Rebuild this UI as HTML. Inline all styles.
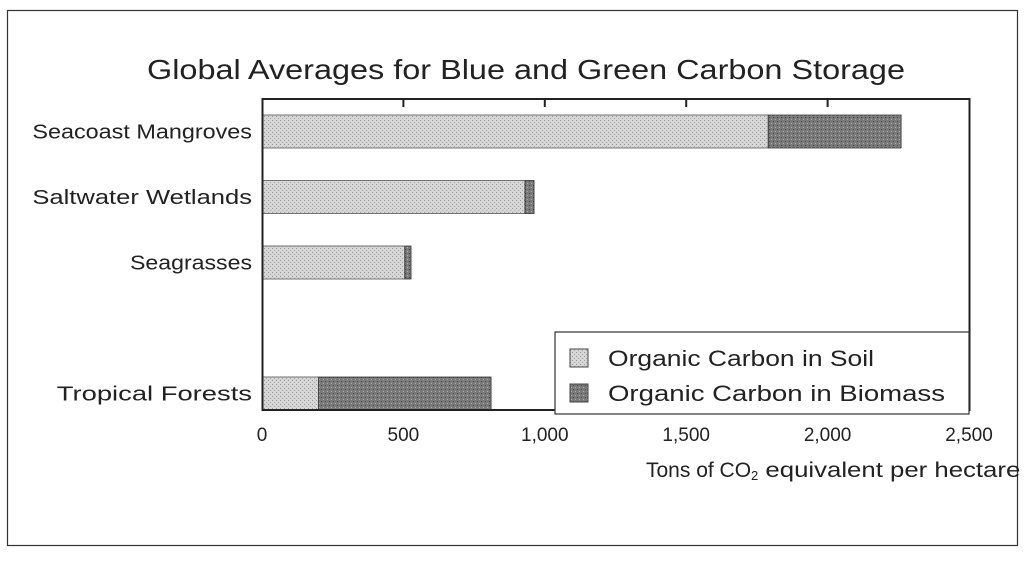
<!DOCTYPE html>
<html><head><meta charset="utf-8"><style>
body{margin:0;background:#fff;width:1024px;height:557px;overflow:hidden;font-family:"Liberation Sans",sans-serif;}
svg text{font-family:"Liberation Sans",sans-serif;fill:#222;}
</style></head><body>
<svg id="chart" width="1024" height="557" xmlns="http://www.w3.org/2000/svg">
<defs>
<pattern id="pSoil" width="4" height="4" patternUnits="userSpaceOnUse"><rect width="4" height="4" fill="#d6d6d6"/><rect x="0" y="0" width="1" height="1" fill="#999"/><rect x="2" y="2" width="1" height="1" fill="#aaa"/></pattern>
<pattern id="pBio" width="4" height="4" patternUnits="userSpaceOnUse"><rect width="4" height="4" fill="#7a7a7a"/><rect x="1" y="1" width="1" height="1" fill="#444"/><rect x="3" y="3" width="1" height="1" fill="#aaa"/></pattern>
</defs>
<rect x="7.5" y="10.5" width="1010" height="535" fill="none" stroke="#333" stroke-width="1.2"/>
<text x="147" y="79" font-size="28" textLength="758" lengthAdjust="spacingAndGlyphs">Global Averages for Blue and Green Carbon Storage</text>
<g id="bars"></g>
<rect x="262.5" y="99" width="707" height="311" fill="none" stroke="#222" stroke-width="2"/>
<g id="ticks"></g>
<g id="cats"></g>
<g>
<rect x="555" y="332" width="414" height="82" fill="#fff" stroke="#333" stroke-width="1.2"/>
<rect x="570" y="349" width="18" height="18" fill="url(#pSoil)" stroke="#444"/>
<text x="608" y="366" font-size="22" textLength="266" lengthAdjust="spacingAndGlyphs">Organic Carbon in Soil</text>
<rect x="570" y="384" width="18" height="18" fill="url(#pBio)" stroke="#444"/>
<text x="608" y="401" font-size="22" textLength="337" lengthAdjust="spacingAndGlyphs">Organic Carbon in Biomass</text>
</g>
<text x="646" y="477" font-size="21">Tons of CO<tspan font-size="13" dy="3">2</tspan><tspan dy="-3" textLength="262" lengthAdjust="spacingAndGlyphs"> equivalent per hectare</tspan></text>
</svg>
<script>
const categories=["Seacoast Mangroves","Saltwater Wetlands","Seagrasses","","Tropical Forests"];
const soilValues=[1790,930,505,0,200];
const biomassValues=[470,32,22,0,610];
const tickValues=[0,500,1000,1500,2000,2500];
const tickLabels=["0","500","1,000","1,500","2,000","2,500"];
const NS="http://www.w3.org/2000/svg";
const x0=262,x1=969,xMax=2500;
const xs=v=>x0+(v/xMax)*(x1-x0);
const slotY=i=>115+i*65.5;
const barH=33;
function mk(t,a){const e=document.createElementNS(NS,t);for(const k in a)e.setAttribute(k,a[k]);return e;}
const bars=document.getElementById('bars'),ticks=document.getElementById('ticks'),cats=document.getElementById('cats');
categories.forEach((c,i)=>{
 if(!c)return;
 const y=slotY(i);
 const s=mk('rect',{x:xs(0),y:y,width:xs(soilValues[i])-xs(0),height:barH,fill:'url(#pSoil)',stroke:'#555','stroke-width':0.8});
 
 
 bars.appendChild(s);
 const b=mk('rect',{x:xs(soilValues[i]),y:y,width:xs(soilValues[i]+biomassValues[i])-xs(soilValues[i]),height:barH,fill:'url(#pBio)',stroke:'#333','stroke-width':0.8});
 
 
 bars.appendChild(b);
 const t=mk('text',{x:252,y:y+barH/2+7,'text-anchor':'end','font-size':20});
 t.textContent=c;
 
 
 cats.appendChild(t);
 const w=t.getComputedTextLength?0:0;
 t.setAttribute('textLength',String(c.length*12.2));
 t.setAttribute('lengthAdjust','spacingAndGlyphs');
});
tickValues.forEach((v,i)=>{
 const x=xs(v);
 if(i>0&&i<tickValues.length-1){
  const l=mk('line',{x1:x,x2:x,y1:99,y2:107,stroke:'#222','stroke-width':2});
  
  
  ticks.appendChild(l);
 }
 const t=mk('text',{x:x,y:441,'text-anchor':'middle','font-size':19});
 t.textContent=tickLabels[i];
 
 
 ticks.appendChild(t);
});
</script>
</body></html>
